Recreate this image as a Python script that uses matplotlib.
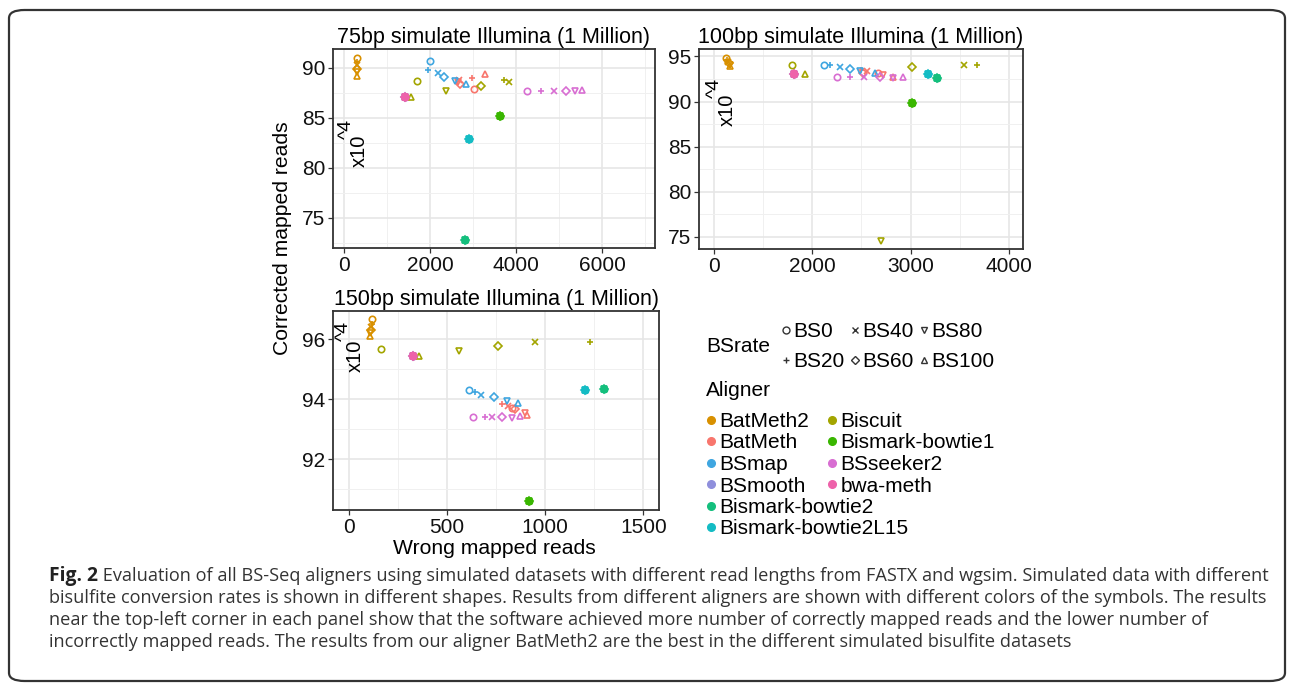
import matplotlib
matplotlib.use('Agg')
import matplotlib.pyplot as plt
from matplotlib.lines import Line2D
from matplotlib.patches import FancyBboxPatch

plt.rcParams['font.family'] = ['Liberation Sans', 'DejaVu Sans']

W, H = 1293, 685

aligners = ['BatMeth2', 'BatMeth', 'BSmap', 'BSmooth', 'Bismark-bowtie2', 'Bismark-bowtie2L15',
            'Biscuit', 'Bismark-bowtie1', 'BSseeker2', 'bwa-meth']
colors = ['#D89000', '#F8766D', '#3FA6E0', '#8F8FDC', '#14BF7D', '#14BCC4',
          '#A3A500', '#39B600', '#D86ED2', '#EE62AA']
bs_rates = ['BS0', 'BS20', 'BS40', 'BS60', 'BS80', 'BS100']
shapes = ['o', '+', 'x', 'D', 'v', '^']

# values in units of 10^4 reads, one entry per BS rate (BS0 .. BS100)
x75 = {
    'BatMeth2': [300, 300, 300, 300, 300, 300],
    'BatMeth': [3031, 2969, 2682, 2698, 2660, 3287],
    'BSmap': [2000, 1946, 2179, 2318, 2590, 2845],
    'BSmooth': [1426] * 6,
    'Bismark-bowtie2': [2807] * 6,
    'Bismark-bowtie2L15': [2907] * 6,
    'Biscuit': [1705, 3721, 3844, 3178, 2372, 1551],
    'Bismark-bowtie1': [3628] * 6,
    'BSseeker2': [4256, 4574, 4877, 5156, 5380, 5535],
    'bwa-meth': [1426] * 6,
}
y75 = {
    'BatMeth2': [91.0, 90.6, 90.3, 89.9, 89.6, 89.2],
    'BatMeth': [87.9, 89.0, 88.8, 88.4, 88.6, 89.4],
    'BSmap': [90.7, 89.77, 89.5, 89.1, 88.7, 88.34],
    'BSmooth': [87.04] * 6,
    'Bismark-bowtie2': [72.77] * 6,
    'Bismark-bowtie2L15': [82.84] * 6,
    'Biscuit': [88.67, 88.77, 88.6, 88.2, 87.67, 87.04],
    'Bismark-bowtie1': [85.14] * 6,
    'BSseeker2': [87.7, 87.7, 87.7, 87.7, 87.7, 87.8],
    'bwa-meth': [87.04] * 6,
}

x100 = {
    'BatMeth2': [1125, 1135, 1140, 1150, 1160, 1170],
    'BatMeth': [2670, 2494, 2558, 2517, 2715, 2822],
    'BSmap': [2115, 2186, 2284, 2386, 2484, 2643],
    'BSmooth': [1820] * 6,
    'Bismark-bowtie2': [3273] * 6,
    'Bismark-bowtie2L15': [3175] * 6,
    'Biscuit': [1796, 3673, 3544, 3012, 2700, 1925],
    'Bismark-bowtie1': [3012] * 6,
    'BSseeker2': [2253, 2389, 2528, 2687, 2822, 2924],
    'bwa-meth': [1820] * 6,
}
y100 = {
    'BatMeth2': [94.8, 94.6, 94.4, 94.3, 94.1, 93.9],
    'BatMeth': [93.15, 93.5, 93.35, 93.2, 92.97, 92.7],
    'BSmap': [94.1, 94.0, 93.8, 93.6, 93.35, 93.16],
    'BSmooth': [93.05] * 6,
    'Bismark-bowtie2': [92.6] * 6,
    'Bismark-bowtie2L15': [93.1] * 6,
    'Biscuit': [94.0, 94.08, 94.0, 93.8, 74.6, 93.05],
    'Bismark-bowtie1': [89.84] * 6,
    'BSseeker2': [92.67, 92.67, 92.67, 92.67, 92.6, 92.7],
    'bwa-meth': [93.05] * 6,
}

x150 = {
    'BatMeth2': [121, 117, 115, 112, 110, 110],
    'BatMeth': [832, 781, 812, 845, 897, 909],
    'BSmap': [612, 644, 673, 741, 805, 860],
    'BSmooth': [325] * 6,
    'Bismark-bowtie2': [1301] * 6,
    'Bismark-bowtie2L15': [1201] * 6,
    'Biscuit': [163, 1228, 948, 758, 561, 358],
    'Bismark-bowtie1': [919] * 6,
    'BSseeker2': [634, 692, 732, 783, 832, 870],
    'bwa-meth': [325] * 6,
}
y150 = {
    'BatMeth2': [96.67, 96.52, 96.4, 96.3, 96.2, 96.12],
    'BatMeth': [93.7, 93.84, 93.78, 93.67, 93.55, 93.48],
    'BSmap': [94.33, 94.24, 94.15, 94.07, 93.95, 93.87],
    'BSmooth': [95.45] * 6,
    'Bismark-bowtie2': [94.34] * 6,
    'Bismark-bowtie2L15': [94.33] * 6,
    'Biscuit': [95.67, 95.93, 95.9, 95.77, 95.61, 95.45],
    'Bismark-bowtie1': [90.6] * 6,
    'BSseeker2': [93.4, 93.4, 93.4, 93.4, 93.38, 93.43],
    'bwa-meth': [95.45] * 6,
}

titles = ['75bp simulate Illumina (1 Million)', '100bp simulate Illumina (1 Million)',
          '150bp simulate Illumina (1 Million)']
xticks75 = [0, 2000, 4000, 6000]
yticks75 = [75, 80, 85, 90]
xticks100 = [1000, 2000, 3000, 4000]
xlabels100 = ['0', '2000', '3000', '4000']
yticks100 = [75, 80, 85, 90, 95]
xticks150 = [0, 500, 1000, 1500]
yticks150 = [92, 94, 96]

caption_bold = 'Fig. 2'
caption_lines = [
    ' Evaluation of all BS-Seq aligners using simulated datasets with different read lengths from FASTX and wgsim. Simulated data with different',
    'bisulfite conversion rates is shown in different shapes. Results from different aligners are shown with different colors of the symbols. The results',
    'near the top-left corner in each panel show that the software achieved more number of correctly mapped reads and the lower number of',
    'incorrectly mapped reads. The results from our aligner BatMeth2 are the best in the different simulated bisulfite datasets',
]

fig = plt.figure(figsize=(12.93, 6.85), dpi=100)


def fx(px):
    return px / W


def fy(py):
    return 1 - py / H


def add_ax(l, t, r, b):
    return fig.add_axes([fx(l), fy(b), (r - l) / W, (b - t) / H])


def style(ax, xt, yt, xminor, yminor, xlim, ylim, title, xlab=None):
    ax.set_xlim(*xlim)
    ax.set_ylim(*ylim)
    ax.set_xticks(xt)
    if xlab is not None:
        ax.set_xticklabels(xlab)
    ax.set_yticks(yt)
    ax.set_xticks(xminor, minor=True)
    ax.set_yticks(yminor, minor=True)
    ax.grid(True, which='major', color='#E6E6E6', lw=1.2)
    ax.grid(True, which='minor', color='#F0F0F0', lw=0.7)
    ax.set_axisbelow(True)
    ax.tick_params(which='minor', length=0)
    ax.tick_params(which='major', length=3.5, width=0.9, color='#333333',
                   labelsize=15, pad=2, labelcolor='#111111')
    for s in ax.spines.values():
        s.set_color('#333333')
        s.set_linewidth(1.3)
    ax.set_title(title, fontsize=15.5, pad=4)


def draw(ax, xs, ys):
    for name, c in zip(aligners, colors):
        for i, m in enumerate(shapes):
            ms = 3.6 if m == 'D' else 4.6
            ax.plot(xs[name][i], ys[name][i], ls='none', marker=m, ms=ms,
                    mfc='none', mec=c, mew=1.2)


ax1 = add_ax(333, 49, 655, 248)
draw(ax1, x75, y75)
style(ax1, xticks75, yticks75, [1000, 3000, 5000, 7000], [72.5, 77.5, 82.5, 87.5],
      (-256, 7230), (71.97, 91.87), titles[0])

ax2 = add_ax(699, 49, 1023, 249)
draw(ax2, x100, y100)
style(ax2, xticks100, yticks100, [1500, 2500, 3500], [77.5, 82.5, 87.5, 92.5],
      (850, 4142), (73.67, 95.82), titles[1], xlabels100)

ax3 = add_ax(333, 311, 659, 510)
draw(ax3, x150, y150)
style(ax3, xticks150, yticks150, [250, 750, 1250], [91, 93, 95],
      (-80, 1580), (90.31, 96.95), titles[2])

# x10^4 annotations
for (ax_x, ax_y), (sx, sy) in [((359, 151), (346, 129)), ((727, 110), (714, 88)),
                               ((355, 356), (343, 331))]:
    fig.text(fx(ax_x), fy(ax_y), 'x10', rotation=90, fontsize=14.5, ha='center', va='center')
    fig.text(fx(sx), fy(sy), '^4', rotation=90, fontsize=14, ha='center', va='center')

fig.text(fx(283), fy(238), 'Corrected mapped reads', rotation=90, fontsize=15.2,
         ha='center', va='center')
fig.text(fx(494), fy(548), 'Wrong mapped reads', fontsize=15.2, ha='center', va='center')

# legends
fig.text(fx(706), fy(347), 'BSrate', fontsize=15, ha='left', va='center')
shape_handles = [Line2D([], [], ls='none', marker=m, ms=(4.0 if m == 'D' else 5.0),
                        mfc='none', mec='#333333', mew=1.0) for m in shapes]
fig.legend(shape_handles, bs_rates, ncol=3, frameon=False, fontsize=15,
           loc='upper left', bbox_to_anchor=(fx(781), fy(322)),
           handlelength=0.5, handletextpad=0.1, columnspacing=0.25,
           labelspacing=0.55, borderpad=0, borderaxespad=0)

fig.text(fx(706), fy(390), 'Aligner', fontsize=15, ha='left', va='center')
col1 = aligners[:6]
col2 = aligners[6:]
h1 = [Line2D([], [], ls='none', marker='o', ms=5.5, color=c) for c in colors[:6]]
h2 = [Line2D([], [], ls='none', marker='o', ms=5.5, color=c) for c in colors[6:]]
fig.legend(h1, col1, frameon=False, fontsize=15, loc='upper left',
           bbox_to_anchor=(fx(706), fy(412)), handlelength=0.45, handletextpad=0.2,
           labelspacing=0.12, borderpad=0, borderaxespad=0)
fig.legend(h2, col2, frameon=False, fontsize=15, loc='upper left',
           bbox_to_anchor=(fx(827), fy(412)), handlelength=0.45, handletextpad=0.2,
           labelspacing=0.12, borderpad=0, borderaxespad=0)

# caption
box = FancyBboxPatch((fx(9), fy(681)), fx(1276), 671 / H,
                     boxstyle='round,pad=0,rounding_size=0.012',
                     transform=fig.transFigure, fill=False, ec='#333333', lw=1.6)
fig.patches.append(box)

cap_fs = 13.1
renderer = fig.canvas.get_renderer()
tb = fig.text(fx(49), fy(576), caption_bold, fontsize=cap_fs + 0.8, fontweight='bold',
              family=['Open Sans', 'DejaVu Sans'], color='#222222', va='center', ha='left')
bw = tb.get_window_extent(renderer).width
line_y = [576, 598, 620, 642]
for i, line in enumerate(caption_lines):
    x0 = 49 + (bw if i == 0 else 0)
    fig.text(fx(x0), fy(line_y[i]), line, fontsize=cap_fs, family=['Open Sans', 'DejaVu Sans'],
             color='#333333', va='center', ha='left')

fig.savefig('out.png', dpi=100)
